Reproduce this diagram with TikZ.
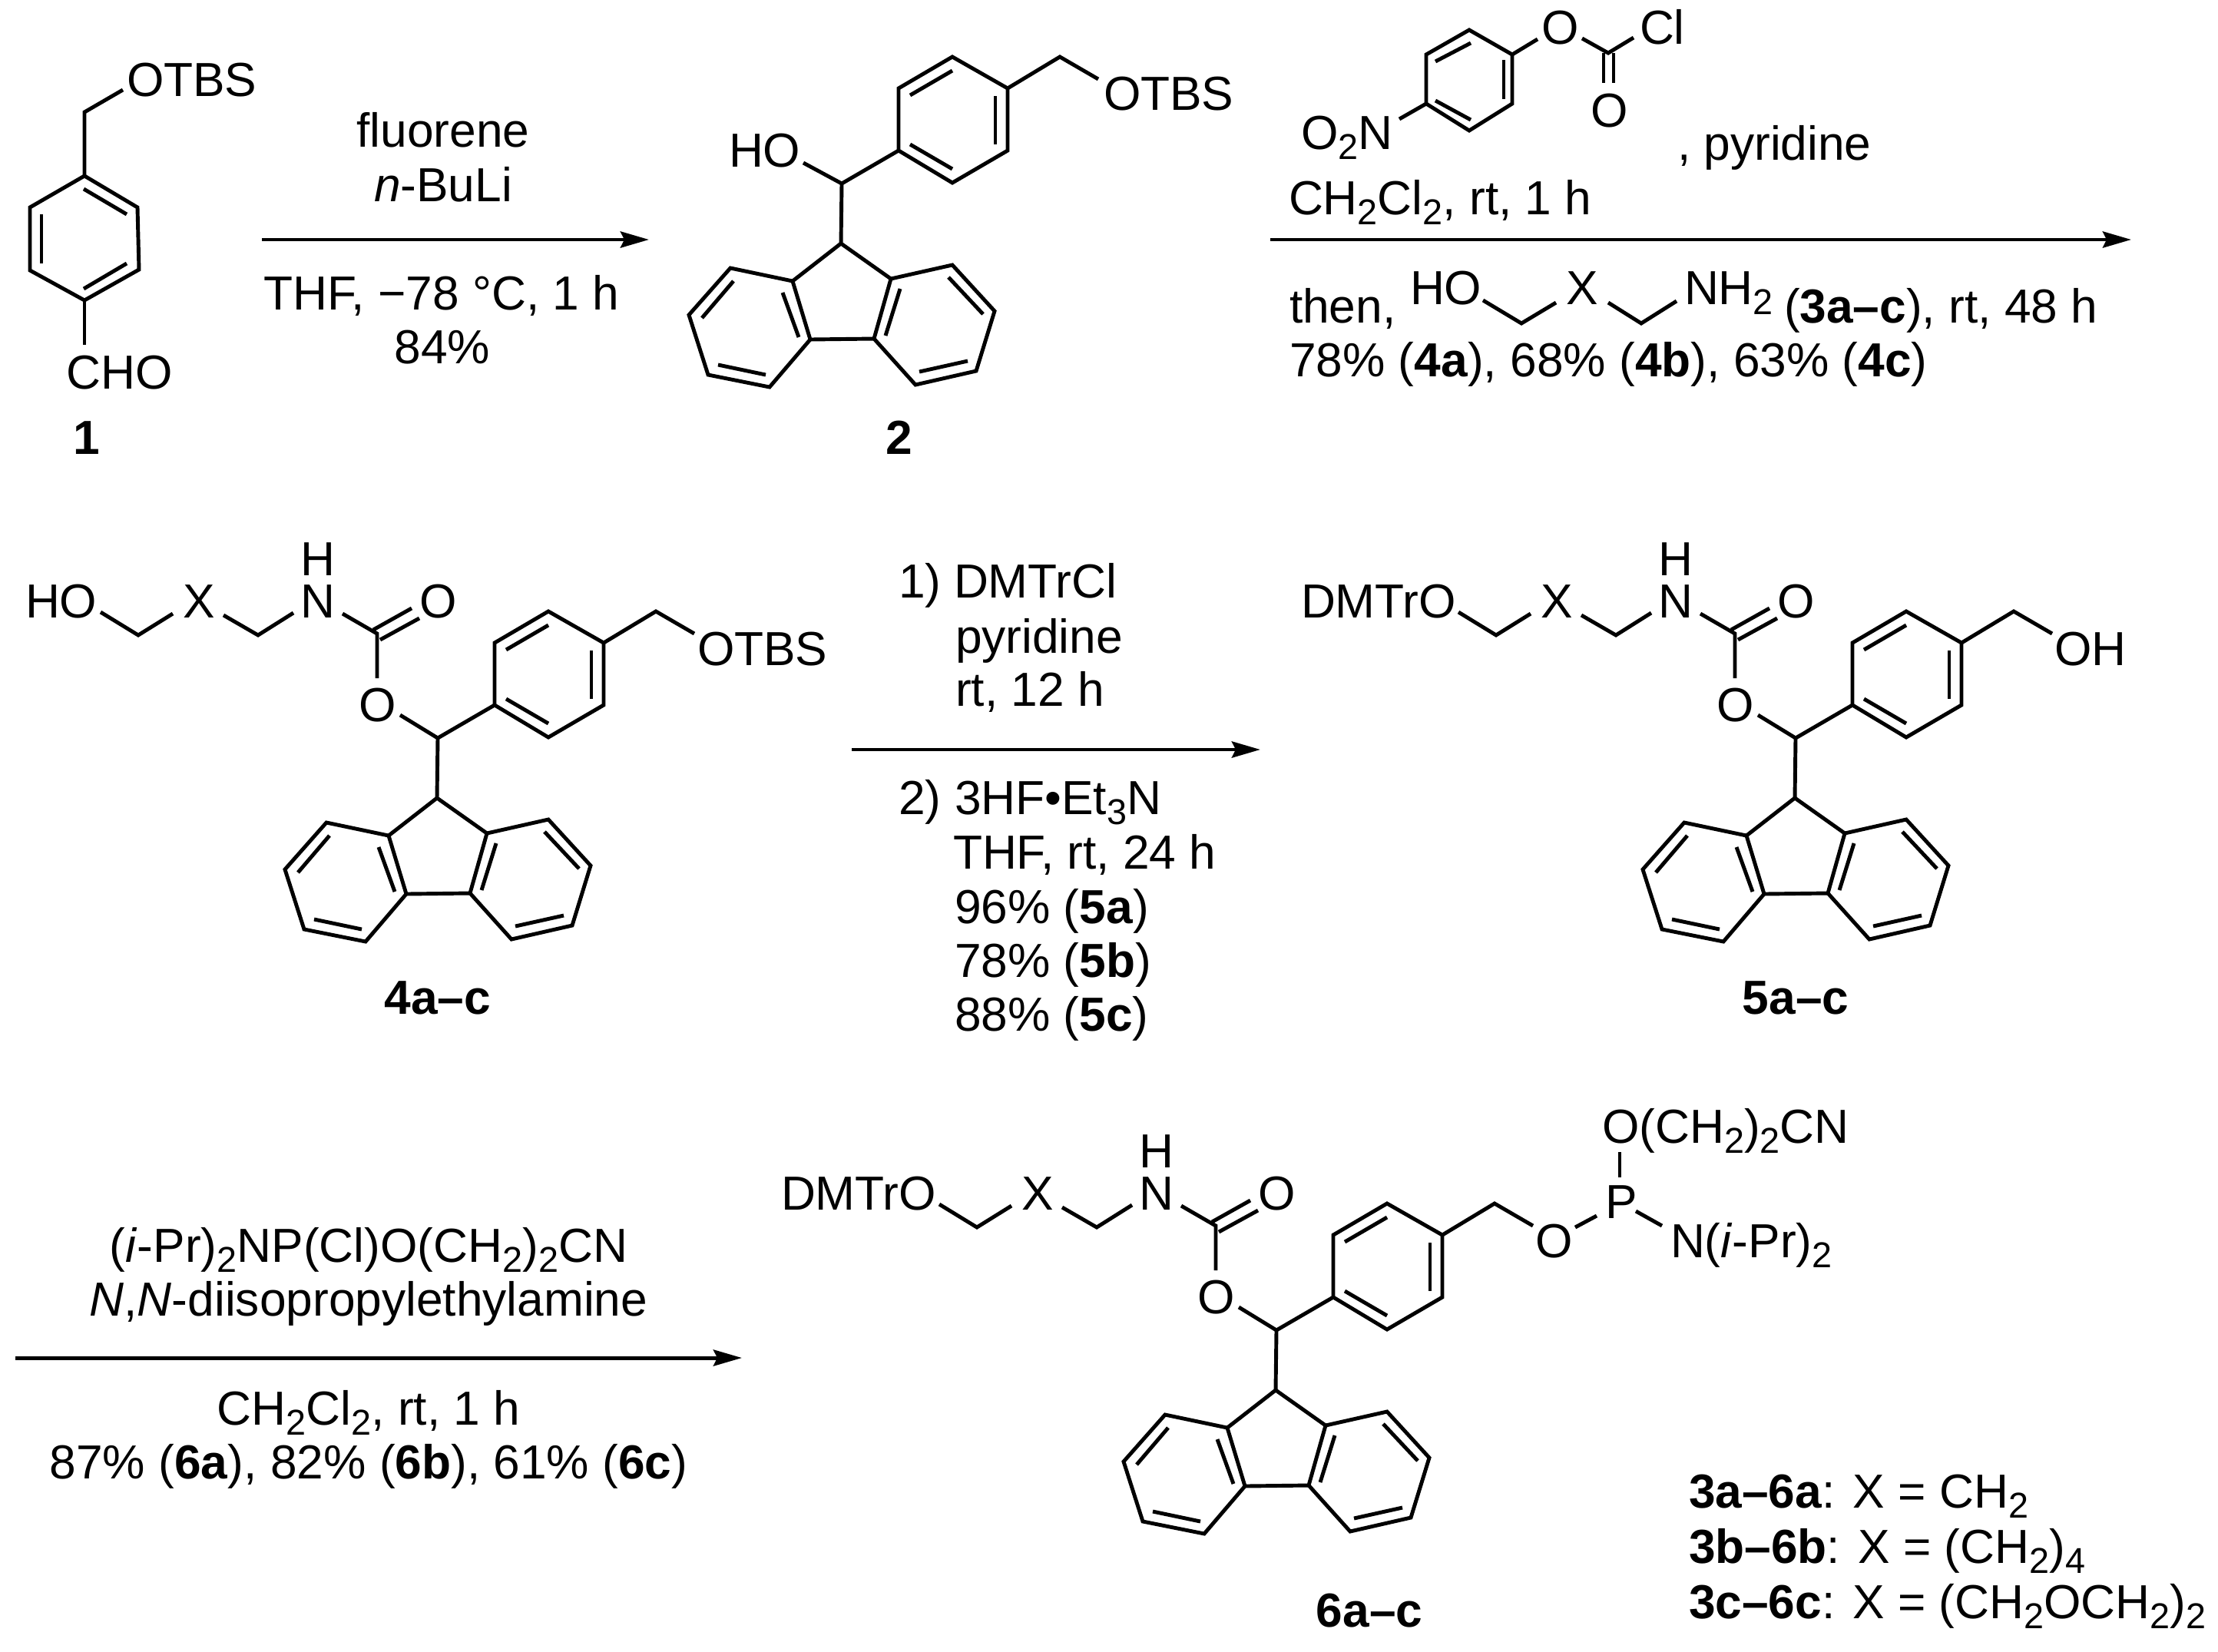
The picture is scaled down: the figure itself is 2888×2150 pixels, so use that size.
\documentclass[tikz,border=0pt]{standalone}
\usepackage{fontspec}
\setmainfont{Liberation Sans}
\usetikzlibrary{arrows.meta}
\newcommand{\lowsub}[1]{\raisebox{-3.7pt}{\fontsize{13.3}{15}\selectfont #1}}
\tikzset{
	bond/.style={line width=1.4pt},
	rxnarrow/.style={line width=1.4pt, -{Stealth[length=.37cm, width=.21cm, inset=.05cm]}},
	lbl/.style={inner sep=0pt, outer sep=0pt, anchor=base west, font=\fontsize{17.7}{20}\selectfont},
	lblc/.style={lbl, anchor=base},
}
% fluorene, CH and the benzene ring with its CH2 arm
\newcommand{\fluorenylcore}[2]{
	\begin{scope}[shift={(#1,#2)}]
		\draw[bond] (569,1039) -- (634,1085) -- (612,1163) -- (529,1164) -- (506,1088) -- cycle;
		\draw[bond] (506,1088) -- (425,1071) -- (371,1132) -- (396,1210) -- (476,1226) -- (529,1164);
		\draw[bond] (634,1085) -- (714,1067) -- (769,1127) -- (745,1205) -- (666,1223) -- (612,1163);
		\draw[bond] (493,1103) -- (514,1161);
		\draw[bond] (429,1088) -- (388,1136);
		\draw[bond] (409,1197) -- (471,1210);
		\draw[bond] (646,1098) -- (627,1159);
		\draw[bond] (709,1083) -- (754,1131);
		\draw[bond] (671,1206) -- (734,1192);
		\draw[bond] (569,1039) -- (570,961) -- (644,918);
		\draw[bond] (714,796) -- (786,837) -- (786,918) -- (714,960) -- (644,918) -- (644,837) -- cycle;
		\draw[bond] (659,846) -- (714,814);
		\draw[bond] (770,847) -- (770,910);
		\draw[bond] (659,910) -- (714,942);
		\draw[bond] (786,837) -- (854,796) -- (904,825);
	\end{scope}
}
% X linker, NH and the carbonate part
\newcommand{\carbamatelink}[3]{
	\begin{scope}[shift={(#1,#2)}]
		\draw[bond] (131,797) -- (180,827) -- (225,799);
		\node[lblc] (#3X) at (259,804) {X};
		\draw[bond] (291,801) -- (336,827) -- (382,798);
		\node[lblc] (#3N) at (414,804) {N};
		\node[lblc] (#3H) at (414,749) {H};
		\draw[bond] (446,799) -- (491,825) -- (491,883);
		\draw[bond] (486,820) -- (536,792);
		\draw[bond] (495,833) -- (546,805);
		\node[lblc] (#3Oa) at (571,804) {O};
		\node[lblc] (#3Ob) at (492,939) {O};
		\draw[bond] (521,931) -- (570,961);
	\end{scope}
}
\begin{document}
\begin{tikzpicture}[x=.01cm, y=-.01cm]
	\useasboundingbox (0,0) rectangle (2888,2150);
	% compound 1
	\draw[bond] (110,229) -- (179,270) -- (181,351) -- (110,391) -- (39,352) -- (39,270) -- cycle;
	\draw[bond] (109,246) -- (165,279);
	\draw[bond] (54,279) -- (54,343);
	\draw[bond] (109,376) -- (165,343);
	\draw[bond] (110,229) -- (110,146) -- (160,117);
	\draw[bond] (110,391) -- (110,449);
	\node[lbl] (otbsA) at (165,125) {OTBS};
	\node[lblc] (choA) at (156,506) {CHO};
	\node[lblc] (cmpdA) at (113,591) {\textbf{1}};
	% first step
	\coordinate (rxnAa) at (341,312);
	\coordinate (rxnAb) at (845,312);
	\draw[rxnarrow] (rxnAa) -- (rxnAb);
	\node[lblc] (fluorene) at (577,191) {fluorene};
	\node[lblc] (buli) at (577,262) {\textit{n}-BuLi};
	\node[lblc] (condA) at (575,403) {THF, −78 °C, 1 h};
	\node[lblc] (yieldA) at (576,473) {84\%};
	% compound 2
	\fluorenylcore{526}{-722}
	\draw[bond] (1096,239) -- (1046,212);
	\node[lbl] (hoB) at (949,217) {HO};
	\node[lbl] (otbsB) at (1437,143) {OTBS};
	\node[lblc] (cmpdB) at (1171,591) {\textbf{2}};
	% second step
	\draw[bond] (1913,39) -- (1969,71) -- (1969,135) -- (1913,170) -- (1857,135) -- (1857,71) -- cycle;
	\draw[bond] (1869,80) -- (1915,56);
	\draw[bond] (1958,78) -- (1958,129);
	\draw[bond] (1869,131) -- (1915,156);
	\draw[bond] (1969,71) -- (2002,51);
	\draw[bond] (2060,50) -- (2094,69) -- (2127,49);
	\draw[bond] (2088,69) -- (2088,108);
	\draw[bond] (2101,69) -- (2101,108);
	\draw[bond] (1857,135) -- (1822,155);
	\node[lblc] (oxyC) at (2032,57) {O};
	\node[lbl] (clC) at (2135,57) {Cl};
	\node[lblc] (carbC) at (2096,165) {O};
	\node[lbl] (notwo) at (1694,194) {O\lowsub{2}N};
	\node[lbl] (pyrC) at (2184,208) {, pyridine};
	\node[lbl] (dcmC) at (1678,279) {CH\lowsub{2}Cl\lowsub{2}, rt, 1 h};
	\coordinate (rxnBa) at (1654,312);
	\coordinate (rxnBb) at (2775,312);
	\draw[rxnarrow] (rxnBa) -- (rxnBb);
	\node[lbl] (thenC) at (1679,420) {then,};
	\node[lbl] (hoC) at (1836,396) {HO};
	\draw[bond] (1931,391) -- (1981,421) -- (2026,394);
	\node[lblc] (xC) at (2060,396) {X};
	\draw[bond] (2094,394) -- (2137,421) -- (2183,392);
	\node[lbl] (nhC) at (2193,396) {NH\lowsub{2}};
	\node[lbl] (restC) at (2323,420) {(\textbf{3a–c}), rt, 48 h};
	\node[lbl] (yieldC) at (1679,490) {78\% (\textbf{4a}), 68\% (\textbf{4b}), 63\% (\textbf{4c})};
	% compound 4
	\carbamatelink{0}{0}{four}
	\fluorenylcore{0}{0}
	\node[lbl] (hoD) at (33,804) {HO};
	\node[lbl] (otbsD) at (908,866) {OTBS};
	\node[lblc] (cmpdD) at (570,1320) {\textbf{4a–c}};
	% third step
	\coordinate (rxnCa) at (1109,976);
	\coordinate (rxnCb) at (1641,976);
	\draw[rxnarrow] (rxnCa) -- (rxnCb);
	\node[lbl] (oneE) at (1170,778) {1)};
	\node[lbl] (dmtrE) at (1242,778) {DMTrCl};
	\node[lbl] (pyrE) at (1244,850) {pyridine};
	\node[lbl] (rtE) at (1244,919) {rt, 12 h};
	\node[lbl] (twoE) at (1170,1060) {2)};
	\node[lbl] (hfE) at (1243,1060) {3HF•Et\lowsub{3}N};
	\node[lbl] (thfE) at (1241,1131) {THF, rt, 24 h};
	\node[lbl] (yieldEa) at (1243,1202) {96\% (\textbf{5a})};
	\node[lbl] (yieldEb) at (1243,1272) {78\% (\textbf{5b})};
	\node[lbl] (yieldEc) at (1243,1342) {88\% (\textbf{5c})};
	% compound 5
	\carbamatelink{1768}{0}{five}
	\fluorenylcore{1768}{0}
	\node[lbl] (dmtrF) at (1694,804) {DMTrO};
	\node[lbl] (ohF) at (2675,866) {OH};
	\node[lblc] (cmpdF) at (2338,1320) {\textbf{5a–c}};
	% fourth step
	\coordinate (rxnDa) at (20,1768);
	\coordinate (rxnDb) at (966,1768);
	\draw[rxnarrow] (rxnDa) -- (rxnDb);
	\node[lblc] (phosG) at (480,1643) {(\textit{i}-Pr)\lowsub{2}NP(Cl)O(CH\lowsub{2})\lowsub{2}CN};
	\node[lblc] (dipeaG) at (480,1713) {\textit{N},\textit{N}-diisopropylethylamine};
	\node[lblc] (dcmG) at (480,1855) {CH\lowsub{2}Cl\lowsub{2}, rt, 1 h};
	\node[lblc] (yieldG) at (480,1925) {87\% (\textbf{6a}), 82\% (\textbf{6b}), 61\% (\textbf{6c})};
	% compound 6
	\carbamatelink{1092}{771}{six}
	\fluorenylcore{1092}{771}
	\node[lbl] (dmtrH) at (1017,1575) {DMTrO};
	\node[lblc] (oxyH) at (2024,1637) {O};
	\draw[bond] (2051,1598) -- (2079,1583);
	\node[lblc] (phosH) at (2111,1586) {P};
	\draw[bond] (2109,1533) -- (2109,1500);
	\node[lbl] (cyanH) at (2086,1488) {O(CH\lowsub{2})\lowsub{2}CN};
	\draw[bond] (2130,1577) -- (2164,1596);
	\node[lbl] (amineH) at (2175,1637) {N(\textit{i}-Pr)\lowsub{2}};
	\node[lblc] (cmpdH) at (1783,2118) {\textbf{6a–c}};
	% X key
	\node[lbl] (keyA) at (2199,1963) {\textbf{3a–6a}: X = CH\lowsub{2}};
	\node[lbl] (keyB) at (2199,2035) {\textbf{3b–6b}: X = (CH\lowsub{2})\lowsub{4}};
	\node[lbl] (keyC) at (2199,2107) {\textbf{3c–6c}: X = (CH\lowsub{2}OCH\lowsub{2})\lowsub{2}};
\end{tikzpicture}
\end{document}
